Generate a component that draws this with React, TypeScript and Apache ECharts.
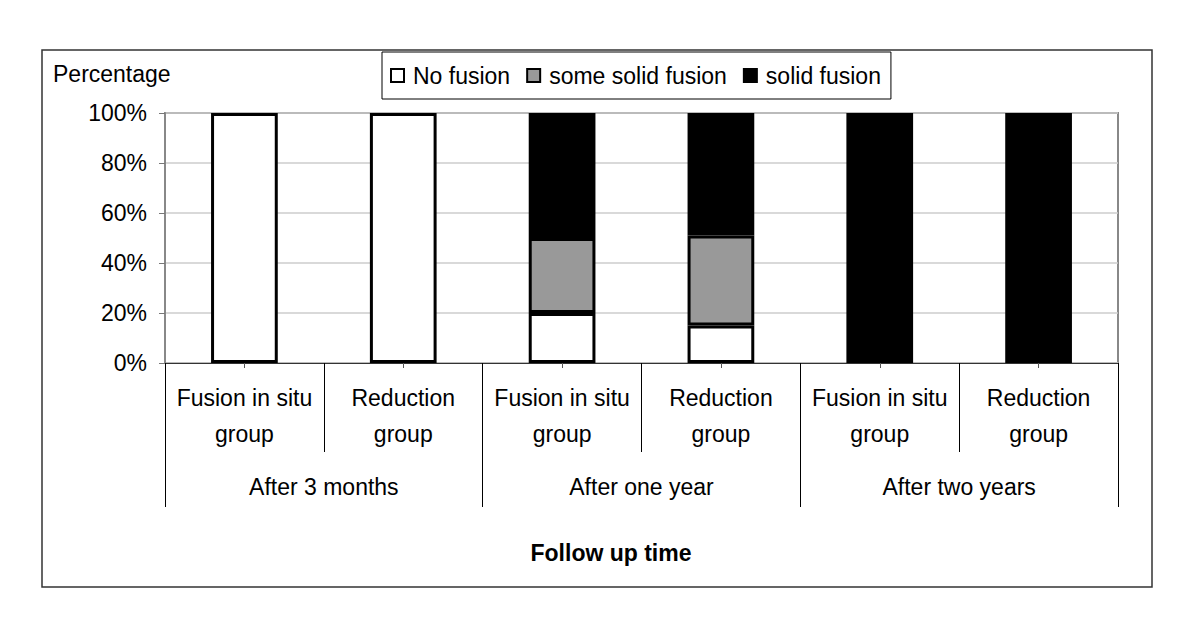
import React, { useEffect, useRef } from "react";
import * as echarts from "echarts";

const categories = [
  "Fusion in situ\ngroup",
  "Reduction\ngroup",
  "Fusion in situ\ngroup",
  "Reduction\ngroup",
  "Fusion in situ\ngroup",
  "Reduction\ngroup",
];
const periods = ["After 3 months", "After one year", "After two years"];
const noFusion = [100, 100, 20, 15, 0, 0];
const someSolidFusion = [0, 0, 30, 36, 0, 0];
const solidFusion = [0, 0, 50, 49, 100, 100];
const seriesNames = ["No fusion", "some solid fusion", "solid fusion"];
const yTicks = [0, 20, 40, 60, 80, 100];

const FONT = "'Liberation Sans', Arial, sans-serif";
const FS = 23;

const nz = (arr: number[]) => arr.map((v) => (v === 0 ? null : v));

export default function App() {
  const ref = useRef<HTMLDivElement>(null);
  useEffect(() => {
    if (!ref.current) return;
    const chart = echarts.init(ref.current, undefined, { renderer: "svg" });
    const barBase = {
      type: "bar",
      stack: "total",
      barWidth: "42%",
      xAxisIndex: 0,
      yAxisIndex: 0,
    };
    chart.setOption({
      animation: false,
      backgroundColor: "#fff",
      textStyle: { fontFamily: FONT, color: "#000" },
      grid: {
        left: 165,
        right: 82,
        top: 113,
        bottom: 271,
        show: true,
        borderColor: "#888",
        borderWidth: 2,
        backgroundColor: "transparent",
      },
      legend: {
        left: 382,
        top: 52,
        padding: [12, 10, 12, 8],
        borderColor: "#000",
        borderWidth: 1,
        itemGap: 16,
        itemWidth: 13,
        itemHeight: 13,
        icon: "rect",
        itemStyle: { borderWidth: 2, borderColor: "#000" },
        textStyle: { fontSize: FS, fontFamily: FONT, color: "#000", padding: [0, 0, 0, 4] },
        data: seriesNames,
      },
      graphic: [
        {
          type: "rect",
          silent: true,
          shape: { x: 42, y: 50, width: 1110, height: 537 },
          style: { fill: "none", stroke: "#333", lineWidth: 1.5 },
          z: -1,
        },
        {
          type: "text",
          x: 53,
          y: 74,
          style: {
            text: "Percentage",
            fontSize: FS,
            fontFamily: FONT,
            fill: "#000",
            textAlign: "left",
            textVerticalAlign: "middle",
          },
        },
        {
          type: "text",
          x: 611,
          y: 553,
          style: {
            text: "Follow up time",
            fontSize: FS,
            fontWeight: "bold",
            fontFamily: FONT,
            fill: "#000",
            textAlign: "center",
            textVerticalAlign: "middle",
          },
        },
      ],
      xAxis: [
        {
          type: "category",
          data: categories,
          position: "bottom",
          axisLine: { show: true, lineStyle: { color: "#333", width: 1 } },
          axisTick: { show: true, length: 89, lineStyle: { color: "#000", width: 1 } },
          axisLabel: {
            fontSize: FS,
            fontFamily: FONT,
            color: "#000",
            lineHeight: 36,
            margin: 17,
            interval: 0,
          },
          splitLine: { show: false },
        },
        {
          type: "category",
          data: periods,
          position: "bottom",
          gridIndex: 0,
          axisLine: { show: false },
          axisTick: { show: true, length: 144, lineStyle: { color: "#000", width: 1 } },
          axisLabel: {
            fontSize: FS,
            fontFamily: FONT,
            color: "#000",
            lineHeight: 36,
            margin: 106,
            interval: 0,
          },
        },
        {
          type: "category",
          data: categories,
          position: "bottom",
          gridIndex: 0,
          axisLine: { show: false },
          axisTick: {
            show: true,
            alignWithLabel: true,
            length: 5,
            lineStyle: { color: "#555", width: 1 },
          },
          axisLabel: { show: false },
        },
      ],
      yAxis: {
        type: "value",
        min: yTicks[0],
        max: yTicks[yTicks.length - 1],
        interval: 20,
        axisLine: { show: true, lineStyle: { color: "#888", width: 2 } },
        axisTick: { show: true, length: 6, lineStyle: { color: "#777", width: 1 } },
        axisLabel: {
          fontSize: FS,
          fontFamily: FONT,
          color: "#000",
          margin: 18,
          formatter: "{value}%",
        },
        splitLine: { show: true, lineStyle: { color: "#ccc", width: 1.5 } },
      },
      series: [
        {
          ...barBase,
          name: seriesNames[0],
          data: nz(noFusion),
          itemStyle: { color: "#fff", borderColor: "#000", borderWidth: 3 },
        },
        {
          ...barBase,
          name: seriesNames[1],
          data: nz(someSolidFusion),
          itemStyle: { color: "#999", borderColor: "#000", borderWidth: 3 },
        },
        {
          ...barBase,
          name: seriesNames[2],
          data: nz(solidFusion),
          itemStyle: { color: "#000", borderColor: "#000", borderWidth: 3 },
        },
      ],
    });
    return () => chart.dispose();
  }, []);
  return (
    <div
      ref={ref}
      style={{ position: "fixed", left: 0, top: 0, width: 1200, height: 634, background: "#fff" }}
    />
  );
}
